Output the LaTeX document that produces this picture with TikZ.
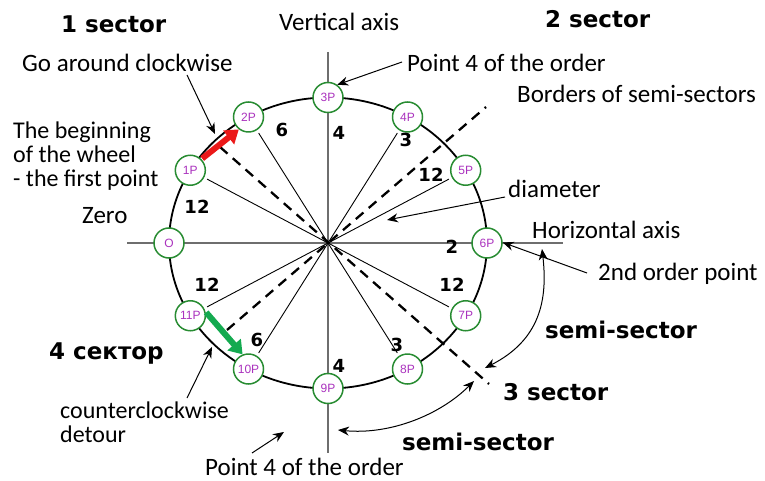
\documentclass[tikz,border=0pt]{standalone}
\usepackage{fontspec}
\setmainfont{Carlito}
\newfontfamily\dvs{DejaVu Sans}
\newfontfamily\lsans{Liberation Sans}
\usetikzlibrary{arrows.meta,calc}
\definecolor{ngreen}{RGB}{40,140,50}
\definecolor{npurple}{RGB}{170,50,190}
\definecolor{axgray}{RGB}{110,110,110}
\definecolor{redar}{RGB}{235,25,25}
\definecolor{greenar}{RGB}{20,170,80}
\begin{document}
\begin{tikzpicture}[x=1pt,y=-1pt,
  pt/.style={circle,draw=ngreen,line width=1.5pt,fill=white,minimum size=30pt,inner sep=0pt,font=\lsans\fontsize{12}{12}\selectfont,text=npurple},
  lbl/.style={anchor=base west,inner sep=0pt,font=\fontsize{25}{27}\selectfont},
  mlbl/.style={anchor=north west,inner sep=0pt,align=left,font=\fontsize{24}{24}\selectfont},
  head/.style={anchor=base west,inner sep=0pt,font=\dvs\bfseries\fontsize{23}{25}\selectfont},
  num/.style={inner sep=0pt,font=\dvs\bfseries\fontsize{18}{18}\selectfont},
  ray/.style={line width=0.9pt},
  axisline/.style={draw=axgray,line width=1.8pt},
  semib/.style={line width=2.3pt,dash pattern=on 10pt off 7pt},
  arr/.style={line width=1pt,-{Stealth[length=11pt,width=9pt]}},
  darr/.style={line width=1pt,{Stealth[length=11pt,width=9pt]}-{Stealth[length=11pt,width=9pt]}},
  bigarr/.style={line width=6pt,-{Triangle[length=13pt,width=17pt]}},
]
\useasboundingbox (0,0) rectangle (765,481);
\coordinate (c) at (328,243);
% axes
\coordinate (hL) at (127,243);
\coordinate (hR) at (563,243);
\coordinate (vT) at (328,52);
\coordinate (vB) at (328,453);
\draw[axisline] (hL) -- (hR);
\draw[axisline] (vT) -- (vB);
% node centres
\foreach \n/\a in {pO/180, p1P/150, p2P/120, p3P/90, p4P/60, p5P/30, p6P/0, p7P/-30, p8P/-60, p9P/-90, p10P/-120, p11P/-150}
  \coordinate (\n c) at ($(c)+(-\a:159 and 145.5)$);
% rays
\foreach \n in {p1P,p2P,p4P,p5P,p7P,p8P,p10P,p11P}
  \draw[ray,shorten >=19pt] (c) -- (\n c);
% borders of semi-sectors
\coordinate (a1) at (220,147);
\coordinate (a2) at (489,384);
\coordinate (b1) at (227,330);
\coordinate (b2) at (486,107);
\draw[semib] (a1) -- (a2);
\draw[semib] (b1) -- (b2);
% wheel
\draw[line width=1.8pt] (c) ellipse [x radius=159pt, y radius=145.5pt];
\foreach \n/\t in {pO/O, p1P/1P, p2P/2P, p3P/3P, p4P/4P, p5P/5P, p6P/6P, p7P/7P, p8P/8P, p9P/9P, p10P/10P, p11P/11P}
  \node[pt] (\n) at (\n c) {\t};
% direction arrows
\draw[bigarr,draw=redar,fill=redar,shorten <=1pt] (p1P.45) -- (p2P.232);
\draw[bigarr,draw=greenar,fill=greenar,shorten <=1pt] (p11P.15) -- (p10P.112);
% numbers
\node[num] (n1) at (282,130) {6};
\node[num] (n2) at (339,133) {4};
\node[num] (n3) at (406,140) {3};
\node[num] (n4) at (431,175) {12};
\node[num] (n5) at (197,207) {12};
\node[num] (n6) at (452,247) {2};
\node[num] (n7) at (207,285) {12};
\node[num] (n8) at (452,285) {12};
\node[num] (n9) at (257,340) {6};
\node[num] (n10) at (339,366) {4};
\node[num] (n11) at (397,345) {3};
% headings
\node[head] (s1) at (61,33) {1 sector};
\node[head] (s2) at (545,28) {2 sector};
\node[head] (s3) at (503,400) {3 sector};
\node[head] (s4) at (49,359) {4 сектор};
\node[head] (ssr) at (545,338) {semi-sector};
\node[head] (ssb) at (402,450) {semi-sector};
% labels
\node[lbl] (tv) at (279,31) {Vertical axis};
\node[lbl] (tgo) at (22,72) {Go around clockwise};
\node[lbl] (tp4t) at (407,72) {Point 4 of the order};
\node[lbl] (tbord) at (517,103) {Borders of semi-sectors};
\node[mlbl] (tbeg) at (13,122) {The beginning\\of the wheel\\- the first point};
\node[lbl] (tdiam) at (508,197) {diameter};
\node[lbl] (thor) at (532,238) {Horizontal axis};
\node[lbl] (tzero) at (82,223) {Zero};
\node[lbl] (t2nd) at (598,280) {2nd order point};
\node[mlbl] (tccw) at (60,402) {counterclockwise\\detour};
\node[lbl] (tp4b) at (205,475) {Point 4 of the order};
% pointer arrows
\coordinate (goS) at (187,75);
\coordinate (goT) at (215,134);
\draw[arr] (goS) -- (goT);
\coordinate (p4S) at (402,62);
\draw[arr] (p4S) -- (p3P.54);
\coordinate (diS) at (505,197);
\coordinate (diT) at (387,220);
\draw[arr] (diS) -- (diT);
\coordinate (o2S) at (587,273);
\draw[arr] (o2S) -- (p6P.2);
\coordinate (ccS) at (187,398);
\coordinate (ccT) at (212,347);
\draw[arr] (ccS) -- (ccT);
\coordinate (pbS) at (252,453);
\coordinate (pbT) at (284,432);
\draw[arr] (pbS) -- (pbT);
% semi-sector arcs
\coordinate (r1) at (542,249);
\coordinate (r2) at (485,368);
\draw[darr] (r1) .. controls (548,300) and (540,340) .. (r2);
\coordinate (q1) at (338,430);
\coordinate (q2) at (474,381);
\draw[darr] (q1) .. controls (390,435) and (440,415) .. (q2);
\end{tikzpicture}
\end{document}
